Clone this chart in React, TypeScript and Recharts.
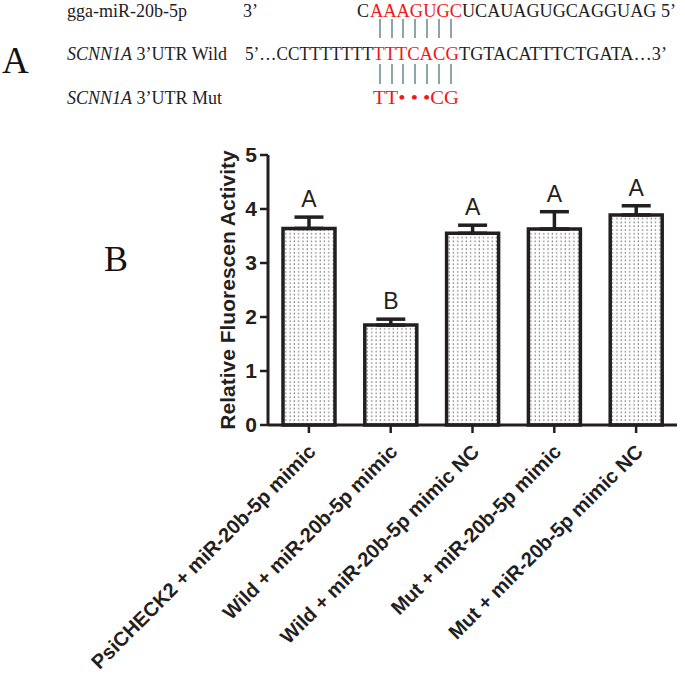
import React from 'react';
import { BarChart, Bar, XAxis, YAxis, ErrorBar, LabelList } from 'recharts';

const categories = [
  'PsiCHECK2 + miR-20b-5p mimic',
  'Wild + miR-20b-5p mimic',
  'Wild + miR-20b-5p mimic NC',
  'Mut + miR-20b-5p mimic',
  'Mut + miR-20b-5p mimic NC',
];
const values = [3.64, 1.85, 3.55, 3.63, 3.89];
const errors = [0.21, 0.11, 0.15, 0.32, 0.17];
const groupLetters = ['A', 'B', 'A', 'A', 'A'];
const yTicks = [0, 1, 2, 3, 4, 5];

const data = categories.map((c, i) => ({
  name: c,
  value: values[i],
  err: [0, errors[i]],
  letter: groupLetters[i],
}));

const INK = '#231f20';
const SANS = '"Liberation Sans", Arial, sans-serif';
const SERIF = '"Liberation Serif", "Times New Roman", serif';
const RED = '#f01818';
const LINE = '#5b8088';

const XTick = (props: any) => {
  const { x, y, payload } = props;
  return (
    <g transform={`translate(${x + 8},${y + 18})`}>
      <text x={0} y={0} transform="rotate(-45)" textAnchor="end" fontFamily={SANS} fontWeight="bold" fontSize={20} fill={INK}>
        {payload.value}
      </text>
    </g>
  );
};

const YTick = (props: any) => {
  const { x, y, payload } = props;
  return (
    <text x={x} y={y} dy={7} textAnchor="end" fontFamily={SANS} fontWeight="bold" fontSize={21} fill={INK}>
      {payload.value}
    </text>
  );
};

const YLabel = (props: any) => {
  const vb = props.viewBox || {};
  const cx = vb.x + 19;
  const cy = vb.y + vb.height / 2;
  return (
    <text x={cx} y={cy} transform={`rotate(-90, ${cx}, ${cy})`} textAnchor="middle" dominantBaseline="central" fontFamily={SANS} fontWeight="bold" fontSize={21} fill={INK}>
      Relative Fluorescen Activity
    </text>
  );
};

const LetterLabel = (props: any) => {
  const vb = props.viewBox && props.viewBox.width !== undefined ? props.viewBox : props;
  const { x, y, width, height } = vb;
  const i = props.index ?? 0;
  const h = Math.abs(height);
  const top = Math.min(y, y + height);
  const pxPerUnit = h / values[i];
  const errTop = top - errors[i] * pxPerUnit;
  return (
    <text x={x + width / 2} y={errTop - 10} textAnchor="middle" fontFamily={SANS} fontSize={23} fill={INK}>
      {groupLetters[i]}
    </text>
  );
};

const pairLinesX = [380, 392, 403, 415, 427, 439, 451];

export default function App() {
  return (
    <div style={{ position: 'absolute', left: 0, top: 0, width: 685, height: 677, background: '#fff' }}>
      <BarChart
        width={685}
        height={677}
        data={data}
        margin={{ top: 155, right: 8, bottom: 52, left: 208 }}
        barCategoryGap={0}
      >
        <defs>
          <pattern id="dots" x="0" y="0" width="4.3" height="3.8" patternUnits="userSpaceOnUse">
            <rect x="0" y="0" width="4.3" height="3.8" fill="#ffffff" />
            <rect x="1.4" y="1.4" width="1.2" height="1.2" fill="#505050" />
          </pattern>
        </defs>
        <XAxis
          dataKey="name"
          height={200}
          interval={0}
          tick={<XTick />}
          tickSize={8}
          axisLine={{ stroke: INK, strokeWidth: 3 }}
          tickLine={{ stroke: INK, strokeWidth: 2.5 }}
        />
        <YAxis
          width={60}
          domain={[0, 5]}
          ticks={yTicks}
          interval={0}
          tickSize={8}
          tickMargin={3}
          tick={<YTick />}
          axisLine={{ stroke: INK, strokeWidth: 3 }}
          tickLine={{ stroke: INK, strokeWidth: 2.5 }}
          label={<YLabel />}
        />
        <Bar dataKey="value" fill="url(#dots)" stroke={INK} strokeWidth={3.5} barSize={52} isAnimationActive={false}>
          <ErrorBar dataKey="err" direction="y" width={14.5} stroke={INK} strokeWidth={3.5} />
          <LabelList dataKey="letter" content={<LetterLabel />} />
        </Bar>
      </BarChart>
      <svg width={685} height={677} style={{ position: 'absolute', left: 0, top: 0, pointerEvents: 'none' }}>
        <text x={2} y={73} fontFamily={SERIF} fontSize={37} fill="#111">A</text>
        <text x={104} y={271} fontFamily={SERIF} fontSize={36} fill="#111">B</text>

        <g fontFamily={SERIF} fontSize={18} fill="#222">
          <text x={67} y={16.5}>gga-miR-20b-5p</text>
          <text x={243} y={16.5}>3’</text>
          <text x={357} y={16.5}>C</text>
          <text x={370} y={16.5} fill={RED} textLength={92} lengthAdjust="spacingAndGlyphs">AAAGUGC</text>
          <text x={462} y={16.5} textLength={214} lengthAdjust="spacingAndGlyphs">UCAUAGUGCAGGUAG 5’</text>

          <text x={67} y={60}><tspan fontStyle="italic">SCNN1A</tspan> 3’UTR Wild</text>
          <text x={245} y={60} textLength={128} lengthAdjust="spacingAndGlyphs">5’…CCTTTTTTT</text>
          <text x={373} y={60} fill={RED} textLength={86} lengthAdjust="spacingAndGlyphs">TTTCACG</text>
          <text x={459} y={60} textLength={208} lengthAdjust="spacingAndGlyphs">TGTACATTTCTGATA…3’</text>

          <text x={67} y={104}><tspan fontStyle="italic">SCNN1A</tspan> 3’UTR Mut</text>
          <text x={373} y={104} fill={RED} textLength={86} lengthAdjust="spacingAndGlyphs">TT• • •CG</text>
        </g>

        <g stroke={LINE} strokeWidth={1.4}>
          {pairLinesX.map((lx) => (
            <line key={`u${lx}`} x1={lx} y1={19} x2={lx} y2={38} />
          ))}
          {pairLinesX.map((lx) => (
            <line key={`l${lx}`} x1={lx} y1={64} x2={lx} y2={84} />
          ))}
        </g>
      </svg>
    </div>
  );
}
